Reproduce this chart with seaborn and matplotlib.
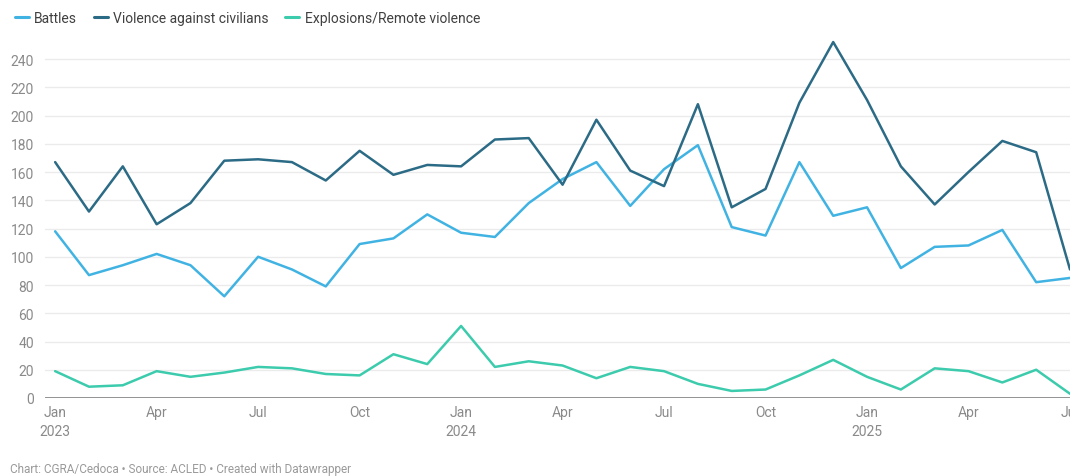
import numpy as np
import pandas as pd
import matplotlib
matplotlib.use("Agg")
import matplotlib.pyplot as plt
import seaborn as sns

months = pd.date_range("2023-01-01", "2025-07-01", freq="MS")
battles = [118, 87, 94, 102, 94, 72, 100, 91, 79, 109, 113, 130,
           117, 114, 138, 155, 167, 136, 162, 179, 121, 115, 167, 129,
           135, 92, 107, 108, 119, 82, 85]
violence = [167, 132, 164, 123, 138, 168, 169, 167, 154, 175, 158, 165,
            164, 183, 184, 151, 197, 161, 150, 208, 135, 148, 209, 252,
            211, 164, 137, 160, 182, 174, 91]
explosions = [19, 8, 9, 19, 15, 18, 22, 21, 17, 16, 31, 24,
              51, 22, 26, 23, 14, 22, 19, 10, 5, 6, 16, 27,
              15, 6, 21, 19, 11, 20, 3]
series_names = ["Battles", "Violence against civilians", "Explosions/Remote violence"]
colors = ["#41b3e3", "#2c6b86", "#3ccbac"]
yticks = [0, 20, 40, 60, 80, 100, 120, 140, 160, 180, 200, 220, 240]
xtick_idx = list(range(0, 31, 3))
xtick_labels = ["Jan\n2023", "Apr", "Jul", "Oct", "Jan\n2024", "Apr", "Jul", "Oct",
                "Jan\n2025", "Apr", "Jul"]
footer = "Chart: CGRA/Cedoca \u2022 Source: ACLED \u2022 Created with Datawrapper"

idx = np.arange(len(months))
df = pd.concat([
    pd.DataFrame({"i": idx, "value": vals, "series": name})
    for name, vals in zip(series_names, [battles, violence, explosions])
])

sns.set_theme(style="white")
plt.rcParams["font.family"] = ["Roboto", "DejaVu Sans"]

fig = plt.figure(figsize=(10.70, 4.77), dpi=100)
ax = fig.add_axes([45 / 1070, 1 - 399 / 477, 1 - 45 / 1070, (399 - 60) / 477])

for y in yticks[1:]:
    ax.axhline(y, color="#ebebeb", lw=1.0, zorder=0)

sns.lineplot(data=df, x="i", y="value", hue="series", hue_order=series_names,
             palette=colors, linewidth=1.8, ax=ax, legend=False, clip_on=False)
for line in ax.lines:
    line.set_clip_on(False)

ax.axhline(0, color="#8a8a8a", lw=1.3, zorder=3)

ax.set_xlim(-0.3, 30)
ax.set_ylim(0, 240)
ax.set_yticks(yticks)
ax.set_yticklabels([str(v) for v in yticks], color="#8a8a8a", fontsize=10)
ax.set_xticks(xtick_idx)
ax.set_xticklabels(xtick_labels, color="#8a8a8a", fontsize=10, linespacing=1.5)
ax.tick_params(axis="y", length=0, pad=8)
ax.tick_params(axis="x", length=0, pad=5)
ax.set_xlabel("")
ax.set_ylabel("")
for s in ax.spines.values():
    s.set_visible(False)

from matplotlib.lines import Line2D
handles = [Line2D([0], [0], color=c, lw=2.2) for c in colors]
fig.legend(handles, series_names, loc="center left", bbox_to_anchor=(0.002, 1 - 19 / 477),
           ncol=3, frameon=False, handlelength=1.0, handletextpad=0.4, columnspacing=1.2,
           fontsize=10, labelcolor="#404040")

fig.text(10 / 1070, 1 - 470 / 477, footer, fontsize=8.5, color="#9a9a9a", va="center", ha="left")

fig.savefig("out.png", dpi=100)
